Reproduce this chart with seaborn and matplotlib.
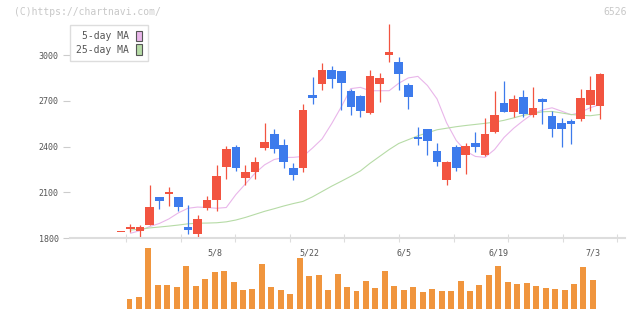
import numpy as np
import pandas as pd
import matplotlib
matplotlib.use("Agg")
import matplotlib.pyplot as plt
from matplotlib.patches import Patch
import seaborn as sns

# daily candles, index -1 is the quiet day before the first volume bar
day = list(range(-1, 50))
opens = [1837, 1861, 1848, 1885, 2067, 2090, 2067, 1872, 1826, 1999,
         2049, 2268, 2397, 2195, 2235, 2392, 2482, 2410, 2259, 2261,
         2738, 2812, 2902, 2895, 2764, 2731, 2622, 2812, 2998, 2954,
         2803, 2464, 2515, 2370, 2180, 2395, 2344, 2423, 2344, 2497,
         2685, 2626, 2725, 2606, 2711, 2600, 2554, 2567, 2580, 2672, 2667]
highs = [1837, 1892, 1883, 2147, 2067, 2134, 2067, 2016, 1951, 2075,
         2279, 2403, 2410, 2277, 2329, 2556, 2515, 2449, 2290, 2679,
         2856, 2950, 2928, 2895, 2775, 2740, 2902, 2882, 3203, 2987,
         2816, 2528, 2515, 2423, 2307, 2410, 2421, 2495, 2585, 2764,
         2829, 2740, 2770, 2790, 2718, 2633, 2587, 2580, 2777, 2862, 2882]
lows = [1837, 1841, 1802, 1885, 1990, 2010, 1977, 1826, 1809, 1984,
        1979, 2185, 2241, 2147, 2187, 2377, 2359, 2261, 2180, 2235,
        2681, 2770, 2784, 2639, 2607, 2593, 2613, 2694, 2956, 2770,
        2646, 2410, 2344, 2274, 2147, 2241, 2222, 2364, 2338, 2487,
        2626, 2591, 2593, 2593, 2550, 2464, 2399, 2418, 2569, 2633, 2580]
closes = [1837, 1874, 1870, 2003, 2045, 2104, 2005, 1855, 1925, 2049,
          2207, 2384, 2261, 2233, 2298, 2429, 2386, 2300, 2213, 2639,
          2720, 2902, 2843, 2819, 2661, 2635, 2862, 2849, 3020, 2877,
          2727, 2451, 2438, 2300, 2298, 2259, 2401, 2397, 2482, 2606,
          2626, 2711, 2615, 2652, 2692, 2515, 2515, 2550, 2718, 2770, 2875]

# moving averages as drawn, from day 0
ma_day = list(range(0, 50))
ma5 = [1831, 1848, 1875, 1895, 1925, 1965, 1995, 2003, 2000, 1995,
       2000, 2085, 2155, 2225, 2280, 2315, 2328, 2329, 2335, 2390,
       2450, 2550, 2660, 2780, 2788, 2766, 2766, 2766, 2815, 2850,
       2860, 2800, 2712, 2555, 2440, 2370, 2335, 2329, 2380, 2460,
       2520, 2570, 2615, 2640, 2654, 2632, 2608, 2625, 2655, 2675]
ma25 = [1852, 1858, 1866, 1872, 1878, 1885, 1893, 1897, 1898, 1900,
        1906, 1918, 1935, 1955, 1975, 1992, 2010, 2026, 2040, 2070,
        2105, 2140, 2172, 2205, 2240, 2290, 2335, 2380, 2420, 2445,
        2470, 2490, 2510, 2520, 2530, 2538, 2545, 2552, 2560, 2572,
        2588, 2605, 2615, 2628, 2630, 2620, 2610, 2605, 2602, 2610]

vol_day = list(range(0, 50))
volume = [30, 36, 183, 72, 72, 66, 129, 69, 90, 111,
          114, 81, 57, 60, 135, 66, 57, 45, 153, 99,
          102, 57, 105, 66, 54, 84, 63, 114, 69, 57,
          66, 51, 60, 54, 54, 84, 54, 72, 102, 129,
          81, 75, 78, 69, 63, 60, 57, 75, 126, 87]

date_pos = [9, 19, 29, 39, 49]
date_labels = ["5/8", "5/22", "6/5", "6/19", "7/3"]

RED = "#f25440"
BLUE = "#3d7bec"
PINK = "#e9b6ea"
GREEN = "#b6dba6"
ORANGE = "#f0953d"

sns.set_style("white")
plt.rcParams['font.family'] = ['DejaVu Sans Mono']

df = pd.DataFrame({"day": day, "open": opens, "high": highs, "low": lows, "close": closes})
df_ma = pd.DataFrame({"day": ma_day, "ma5": ma5, "ma25": ma25})

fig = plt.figure(figsize=(6.4, 3.11), dpi=100)
ax = fig.add_axes([70/640, 73/311, 555/640, 220/311])
axv = fig.add_axes([70/640, 2/311, 555/640, 63/311])

# MA lines behind candles
sns.lineplot(data=df_ma, x="day", y="ma5", color=PINK, lw=0.8, ax=ax, zorder=1)
sns.lineplot(data=df_ma, x="day", y="ma25", color=GREEN, lw=0.8, ax=ax, zorder=1)

up = df["close"] >= df["open"]
cols = np.where(up, RED, BLUE)
ax.vlines(df["day"], df["low"], df["high"], colors=cols, lw=0.9, zorder=2)
body_lo = np.minimum(df["open"], df["close"])
body_h = np.maximum((df["close"] - df["open"]).abs(), 7)
ax.bar(df["day"], body_h, bottom=body_lo, width=0.9, color=cols, linewidth=0, zorder=3)

ax.set_xlim(-6.315, 51.62)
ax.set_ylim(1800, 3243)
ax.set_yticks([1800, 2100, 2400, 2700, 3000])
ax.set_xticks(np.linspace(-0.47, 50.82, 10))
ax.set_xlabel("")
ax.set_ylabel("")
ax.tick_params(axis='y', left=True, length=5, width=0.8, color='#cccccc',
               labelsize=6, labelcolor='#555555', pad=3)
ax.tick_params(axis='x', bottom=True, direction='inout', length=6, width=0.8,
               color='#dddddd', labelbottom=False)
for s in ['top', 'right', 'left']:
    ax.spines[s].set_visible(False)
ax.spines['bottom'].set_color('#dddddd')
ax.spines['bottom'].set_linewidth(1.5)

handles = [Patch(facecolor=PINK, edgecolor='#555555', lw=0.8, label='5-day MA'),
           Patch(facecolor=GREEN, edgecolor='#555555', lw=0.8, label='25-day MA')]
leg = ax.legend(handles=handles, loc='upper left', bbox_to_anchor=(70/640, 1 - 25/311),
                bbox_transform=fig.transFigure, borderaxespad=0, markerfirst=False,
                fancybox=False, framealpha=1, edgecolor='#dddddd', fontsize=7,
                labelcolor='#555555', handlelength=0.6, handleheight=1.3,
                handletextpad=0.8, borderpad=0.6, labelspacing=0.3)
leg.get_frame().set_linewidth(1)

# volume
axv.bar(vol_day, volume, width=0.63, color=ORANGE, linewidth=0)
axv.set_xlim(-6.29, 52.39)
axv.set_ylim(0, 189)
axv.set_yticks([])
axv.set_xticks(date_pos)
axv.set_xticklabels(date_labels)
axv.xaxis.tick_top()
axv.tick_params(axis='x', length=0, labelsize=6, labelcolor='#555555', pad=-8)
for s in axv.spines.values():
    s.set_visible(False)

fig.text(14/640, 1 - 12/311, "(C)https://chartnavi.com/", fontsize=7, color='#c8c8c8', va='center')
fig.text(627/640, 1 - 12/311, "6526", fontsize=7, color='#c8c8c8', va='center', ha='right')

fig.savefig("out.png", dpi=100)
